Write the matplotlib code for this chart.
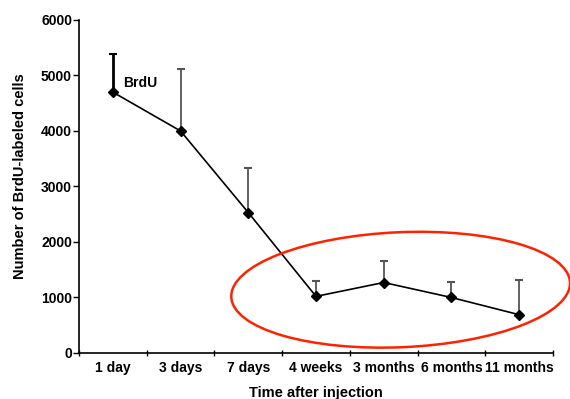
import numpy as np
import matplotlib
matplotlib.use("Agg")
import matplotlib.pyplot as plt
from matplotlib.patches import Ellipse
from matplotlib.transforms import ScaledTranslation

plt.rcParams['font.family'] = ['Liberation Sans', 'DejaVu Sans']

# BrdU-labeled cell counts over time (mean and upper error)
time_labels = ['1 day', '3 days', '7 days', '4 weeks', '3 months', '6 months', '11 months']
cell_means = [4700, 4000, 2530, 1020, 1270, 1000, 690]
cell_upper = [5380, 5110, 3340, 1300, 1650, 1280, 1320]

fig = plt.figure(figsize=(5.7, 3.99), dpi=100)
ax = fig.add_axes([0.1386, 0.1153, 0.8316, 0.8346])

x = np.arange(len(time_labels))
means = np.array(cell_means)
err_up = np.array(cell_upper) - means

# error bars (upper only), first one heavier
bar_colors = ['black'] + ['#555555'] * (len(x) - 1)
bar_widths = [2.0] + [1.3] * (len(x) - 1)
for i in range(len(x)):
    ax.errorbar(x[i], means[i], yerr=[[0], [err_up[i]]], fmt='none',
                ecolor=bar_colors[i], elinewidth=bar_widths[i],
                capsize=3, capthick=1.5, zorder=2)

ax.plot(x, means, color='black', lw=1.2, marker='D', markersize=5,
        markerfacecolor='black', markeredgecolor='black', zorder=3)

ax.text(0.15, 4860, 'BrdU', fontsize=10, fontweight='bold', va='center', ha='left')

ax.set_xlim(-0.5, len(x) - 0.5)
ax.set_ylim(0, 6000)
ax.set_yticks(np.arange(0, 6001, 1000))
ax.set_xticks(np.arange(-0.5, len(x), 1.0))
ax.set_xticklabels([])
ax.set_xticks(x, minor=True)
ax.set_xticklabels(time_labels, minor=True, fontsize=10, fontweight='bold')
ax.tick_params(axis='x', which='minor', length=0, pad=6)
ax.tick_params(axis='x', which='major', direction='inout', length=5, width=1)
ax.tick_params(axis='y', direction='out', length=4, width=1, pad=1,
               labelsize=10)
for lab in ax.get_yticklabels():
    lab.set_fontweight('bold')

ax.spines['top'].set_visible(False)
ax.spines['right'].set_visible(False)
ax.spines['left'].set_linewidth(1.2)
ax.spines['bottom'].set_linewidth(1.2)

ax.set_ylabel('Number of BrdU-labeled cells', fontsize=10.5, fontweight='bold')
ax.yaxis.set_label_coords(-0.11, 0.53)
ax.set_xlabel('Time after injection', fontsize=10.5, fontweight='bold', labelpad=8)

# red ring around the late time points (sized in inches, centred in data units)
ring = Ellipse((0, 0), 3.39, 1.15, angle=2.5, fill=False, edgecolor='#ff2200',
               lw=1.8, clip_on=False, zorder=4,
               transform=fig.dpi_scale_trans + ScaledTranslation(4.25, 1140, ax.transData))
ax.add_patch(ring)

fig.savefig('out.png', dpi=100)
